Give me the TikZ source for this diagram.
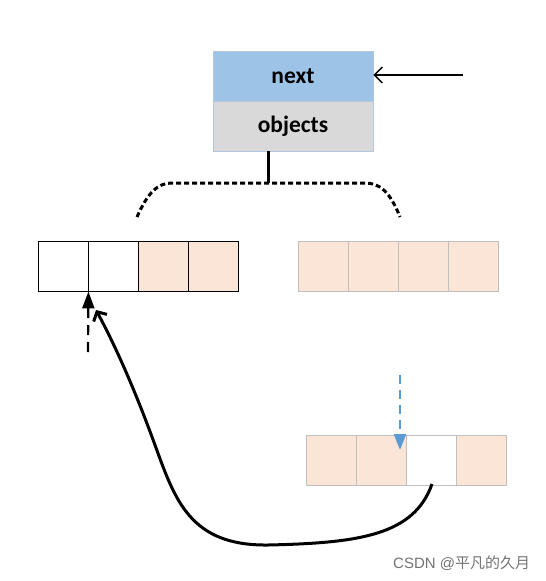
\documentclass[tikz,border=0pt]{standalone}
\usepackage{fontspec}
\setmainfont{Carlito}
\newfontfamily\cjk{Noto Sans CJK SC}
\newfontfamily\wmlat{Liberation Sans}
\usetikzlibrary{arrows.meta}
\definecolor{nextblue}{HTML}{9DC3E6}
\definecolor{objgray}{HTML}{D9D9D9}
\definecolor{peach}{HTML}{FBE5D6}
\definecolor{cellgray}{HTML}{BFBFBF}
\definecolor{boxedge}{HTML}{B4C7DC}
\definecolor{arrowblue}{HTML}{5B9BD5}
\tikzset{
  hdr/.style={draw=boxedge, line width=0.8pt, minimum width=160pt, minimum height=50pt, inner sep=0pt, font=\fontsize{23.5}{23.5}\selectfont\bfseries},
  cellk/.style={draw=black, line width=0.9pt, minimum width=50pt, minimum height=50pt, inner sep=0pt},
  cellg/.style={draw=cellgray, line width=0.9pt, minimum width=50pt, minimum height=50pt, inner sep=0pt},
}
\begin{document}
\begin{tikzpicture}[x=1pt,y=-1pt]
\useasboundingbox (0,0) rectangle (546,581);
% header
\node[hdr, fill=nextblue] (next) at (293,76) {next};
\node[hdr, fill=objgray] (obj) at (293,126) {objects};
\coordinate (ptrstart) at (463,75);
\draw[line width=1.4pt, -{Straight Barb[length=8pt,width=16pt]}] (ptrstart) -- (next.east |- ptrstart);
% bracket
\coordinate (objbot) at (268,151);
\coordinate (brtop) at (268,183);
\draw[line width=3pt] (objbot) -- (brtop);
\coordinate (bl) at (137,217);
\coordinate (br) at (400,217);
\draw[line width=3pt, dash pattern=on 5pt off 3pt] (bl) .. controls (148,192) and (158,183) .. (172,183) -- (365,183) .. controls (380,183) and (390,192) .. (br);
% left array
\node[cellk, fill=white] (l1) at (63,266) {};
\node[cellk, fill=white] (l2) at (113,266) {};
\node[cellk, fill=peach] (l3) at (163,266) {};
\node[cellk, fill=peach] (l4) at (213,266) {};
% right array
\node[cellg, fill=peach] (r1) at (323,266) {};
\node[cellg, fill=peach] (r2) at (373,266) {};
\node[cellg, fill=peach] (r3) at (423,266) {};
\node[cellg, fill=peach] (r4) at (473,266) {};
% bottom array
\node[cellg, fill=peach] (b1) at (331,460) {};
\node[cellg, fill=peach] (b2) at (381,460) {};
\node[cellg, fill=white] (b3) at (431,460) {};
\node[cellg, fill=peach] (b4) at (481,460) {};
% black dashed arrow
\coordinate (dstart) at (88,352);
\draw[line width=2.2pt, dash pattern=on 10pt off 7pt, -{Triangle[length=17pt,width=12pt]}] (dstart) -- (l1.south east);
% blue dashed arrow
\coordinate (bstart) at (400,375);
\coordinate (bend) at (400,450);
\draw[arrowblue, line width=2.2pt, dash pattern=on 9pt off 6pt, -{Triangle[length=16pt,width=12pt]}] (bstart) -- (bend);
% curve
\coordinate (cstart) at (432,484);
\coordinate (cend) at (96,310);
\draw[line width=3pt, -{Straight Barb[length=7pt,width=15pt]}] (cstart) .. controls (414,535) and (360,543) .. (268,545) .. controls (190,546) and (175,500) .. (155,445) .. controls (135,390) and (115,345) .. (cend);
% watermark
\node[anchor=west, inner sep=0pt, text=black!55, font=\fontsize{15}{15}\selectfont] (wm) at (393,563) {\wmlat CSDN @\cjk 平凡的久月};
\end{tikzpicture}
\end{document}
